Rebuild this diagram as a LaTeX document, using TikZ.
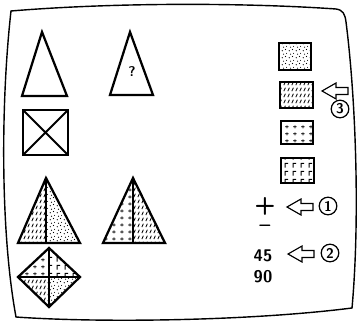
\documentclass[tikz,border=0pt]{standalone}
\usepackage{tikz}
\usetikzlibrary{arrows.meta,positioning,patterns}

% fill textures of the swatches
\pgfdeclarepatternformonly{tdots}{\pgfqpoint{0pt}{0pt}}{\pgfqpoint{5pt}{5pt}}{\pgfqpoint{5pt}{5pt}}{
  \pgfpathcircle{\pgfqpoint{1pt}{1pt}}{0.45pt}
  \pgfpathcircle{\pgfqpoint{3.6pt}{2pt}}{0.45pt}
  \pgfpathcircle{\pgfqpoint{2pt}{3.8pt}}{0.45pt}
  \pgfpathcircle{\pgfqpoint{4.4pt}{4.5pt}}{0.4pt}
  \pgfusepath{fill}}
\pgfdeclarepatternformonly{thatch}{\pgfqpoint{0pt}{0pt}}{\pgfqpoint{2.8pt}{4.4pt}}{\pgfqpoint{2.8pt}{4.4pt}}{
  \pgfsetlinewidth{0.6pt}
  \pgfpathmoveto{\pgfqpoint{0.6pt}{0.7pt}}\pgfpathlineto{\pgfqpoint{1.7pt}{3.4pt}}
  \pgfusepath{stroke}}
\pgfdeclarepatternformonly{tpluses}{\pgfqpoint{0pt}{0pt}}{\pgfqpoint{5.6pt}{5pt}}{\pgfqpoint{5.6pt}{5pt}}{
  \pgfsetlinewidth{0.6pt}
  \pgfpathmoveto{\pgfqpoint{1.6pt}{2.5pt}}\pgfpathlineto{\pgfqpoint{4pt}{2.5pt}}
  \pgfpathmoveto{\pgfqpoint{2.8pt}{1.3pt}}\pgfpathlineto{\pgfqpoint{2.8pt}{3.7pt}}
  \pgfusepath{stroke}}
\pgfdeclarepatternformonly{tbricks}{\pgfqpoint{0pt}{0pt}}{\pgfqpoint{5.6pt}{5.6pt}}{\pgfqpoint{5.6pt}{5.6pt}}{
  \pgfsetlinewidth{0.6pt}
  \pgfpathmoveto{\pgfqpoint{1.5pt}{1pt}}\pgfpathlineto{\pgfqpoint{1.5pt}{4pt}}
  \pgfpathlineto{\pgfqpoint{3.6pt}{4pt}}
  \pgfusepath{stroke}}

\begin{document}
\begin{tikzpicture}[
  x=0.025cm, y=-0.025cm,
  font=\sffamily,
  figline/.style={line width=1.6pt, line join=miter},
  swatch/.style={draw, line width=1.4pt},
  sign/.style={inner sep=0pt, font=\sffamily\bfseries\LARGE},
  angle/.style={inner sep=1pt, font=\sffamily\bfseries\large},
  badge/.style={circle, draw, line width=0.9pt, inner sep=0pt, minimum size=0.44cm, font=\sffamily\bfseries},
  pointer/.pic={\draw[line width=0.8pt, line join=miter] (0,0) -- (14,-8) -- (14,-3.5) -- (26,-3.5) -- (26,3.5) -- (14,3.5) -- (14,8) -- cycle;}
]
\useasboundingbox (0,0) rectangle (359,326);

% screen outline
\draw[line width=1pt] (11,11) .. controls (120,2) and (250,3) .. (336,9)
  .. controls (343,10) and (345,14) .. (346,22)
  .. controls (356,100) and (360,220) .. (352,308)
  .. controls (250,321) and (100,323) .. (16,317)
  .. controls (0,230) and (1,100) .. (11,11) -- cycle;

% top row
\draw[figline] (42,32) -- (67,96) -- (22,96) -- cycle;
\draw[figline] (130,32) -- (153,95) -- (110,95) -- cycle;
\node[font=\sffamily\bfseries] (q) at (132,72) {?};
\draw[figline] (23,110) rectangle (68,155);
\draw[line width=1.4pt] (23,110) -- (68,155) (68,110) -- (23,155);

% swatches
\draw[swatch, pattern=tdots] (279,43) rectangle (311,70);
\draw[swatch, pattern=thatch] (280,82) rectangle (313,108);
\draw[swatch, pattern=tpluses] (281,121) rectangle (313,144);
\draw[swatch, pattern=tbricks] (281,158) rectangle (314,183);

\pic at (322,91) {pointer};
\node[badge] (n3) at (340,109) {3};

% sign and angle
\node[sign] (plus) at (265,206) {+};
\node[sign, font=\sffamily\bfseries\Large] (minus) at (265,228) {--};
\pic at (287,207) {pointer};
\node[badge] (n1) at (328,206) {1};
\node[angle] (a45) at (263,256) {45};
\node[angle] (a90) at (263,277) {90};
\pic at (288,254) {pointer};
\node[badge] (n2) at (330,253) {2};

% split triangles
\fill[pattern=thatch] (46,178) -- (46,243) -- (18,243) -- cycle;
\fill[pattern=tdots] (46,178) -- (80,243) -- (46,243) -- cycle;
\draw[figline] (46,178) -- (80,243) -- (18,243) -- cycle;
\draw[line width=1.4pt] (46,178) -- (46,243);

\fill[pattern=tpluses] (133,178) -- (133,243) -- (103,243) -- cycle;
\fill[pattern=thatch] (133,178) -- (165,243) -- (133,243) -- cycle;
\draw[figline] (133,178) -- (165,243) -- (103,243) -- cycle;
\draw[line width=1.4pt] (133,178) -- (133,243);

% diamond
\fill[pattern=tpluses] (49,248) -- (49,277) -- (18,277) -- cycle;
\fill[pattern=tbricks] (49,248) -- (80,277) -- (49,277) -- cycle;
\fill[pattern=thatch] (18,277) -- (49,277) -- (49,307) -- cycle;
\fill[pattern=tdots] (80,277) -- (49,277) -- (49,307) -- cycle;
\draw[figline] (49,248) -- (80,277) -- (49,307) -- (18,277) -- cycle;
\draw[line width=1.4pt] (49,248) -- (49,307) (18,277) -- (80,277);
\end{tikzpicture}
\end{document}
